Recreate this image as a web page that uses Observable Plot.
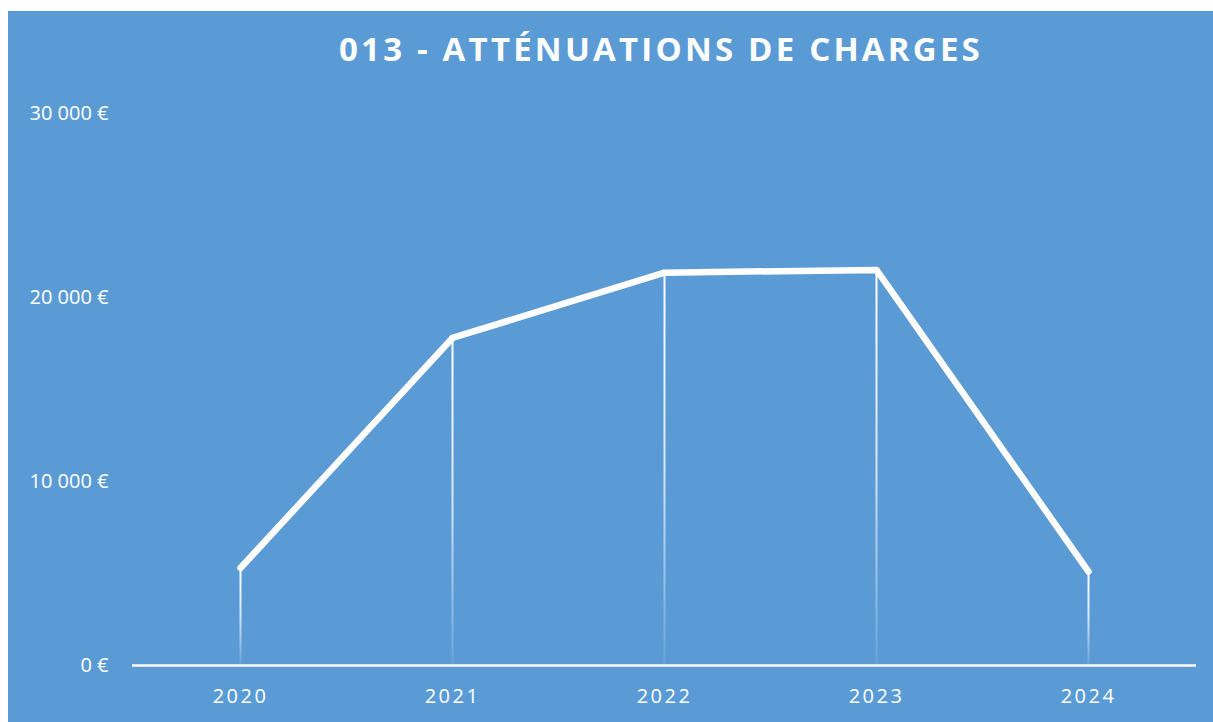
<!DOCTYPE html>
<html>
<head>
<meta charset="utf-8">
<script src="https://cdn.jsdelivr.net/npm/d3@7"></script>
<script src="https://cdn.jsdelivr.net/npm/@observablehq/plot@0.6"></script>
<style>
  html, body { margin: 0; padding: 0; background: #ffffff; }
  #frame { position: absolute; left: 8px; top: 11px; width: 1205px; height: 711px; background: #5B9BD5; overflow: hidden; }
  #title { position: absolute; left: 153px; top: 21px; width: 1000px; text-align: center;
           font-family: "Open Sans", sans-serif; font-weight: 700; font-size: 33px; line-height: 33px;
           letter-spacing: 3.2px; color: #ffffff; }
  #chart { position: absolute; left: 0px; top: 79px; }
</style>
</head>
<body>
<div id="frame">
  <div id="title">013 - ATTÉNUATIONS DE CHARGES</div>
  <div id="chart"></div>
</div>
<script>
const years = ["2020", "2021", "2022", "2023", "2024"];
const amounts = [5300, 17800, 21350, 21500, 5100];
const yTicks = [0, 10000, 20000, 30000];

const data = years.map((y, i) => ({year: y, value: amounts[i]}));
const fmt = d => d3.format(",")(d).replace(/,/g, " ") + " €";

const plot = Plot.plot({
  width: 1205,
  height: 632,
  marginTop: 23,
  marginBottom: 57,
  marginLeft: 124,
  marginRight: 17,
  style: {background: "transparent", color: "#ffffff", fontFamily: "Open Sans, sans-serif", fontSize: "20px", overflow: "visible"},
  x: {type: "point", domain: years, padding: 0.5, label: null},
  y: {domain: [0, 30000], label: null},
  marks: [
    Plot.axisY({ticks: yTicks, tickFormat: fmt, tickSize: 0, tickPadding: 24, fill: "#ffffff", fontSize: 20}),
    Plot.axisX({tickSize: 0, tickPadding: 23, fill: "#ffffff", fontSize: 20}),
    Plot.ruleX(data, {x: "year", y1: 0, y2: "value", stroke: (d, i) => `url(#drop${i})`, strokeWidth: 2}),
    Plot.ruleY([0], {stroke: "#ffffff", strokeWidth: 2.5}),
    Plot.line(data, {x: "year", y: "value", stroke: "#ffffff", strokeWidth: 6.5, strokeLinejoin: "round", strokeLinecap: "round"})
  ]
});

// per-line vertical gradients (white fading toward the baseline)
const ys = plot.scale("y");
const svgNS = "http://www.w3.org/2000/svg";
const defs = document.createElementNS(svgNS, "defs");
data.forEach((d, i) => {
  const g = document.createElementNS(svgNS, "linearGradient");
  g.setAttribute("id", `drop${i}`);
  g.setAttribute("gradientUnits", "userSpaceOnUse");
  g.setAttribute("x1", 0); g.setAttribute("x2", 0);
  g.setAttribute("y1", ys.apply(d.value)); g.setAttribute("y2", ys.apply(0));
  [[0, 1], [0.5, 0.75], [1, 0.08]].forEach(([o, a]) => {
    const s = document.createElementNS(svgNS, "stop");
    s.setAttribute("offset", o);
    s.setAttribute("stop-color", "#ffffff");
    s.setAttribute("stop-opacity", a);
    g.appendChild(s);
  });
  defs.appendChild(g);
});
plot.insertBefore(defs, plot.firstChild);
plot.querySelectorAll("g[aria-label='x-axis tick label']").forEach(n => n.setAttribute("letter-spacing", "2.5"));

document.getElementById("chart").appendChild(plot);
</script>
</body>
</html>
